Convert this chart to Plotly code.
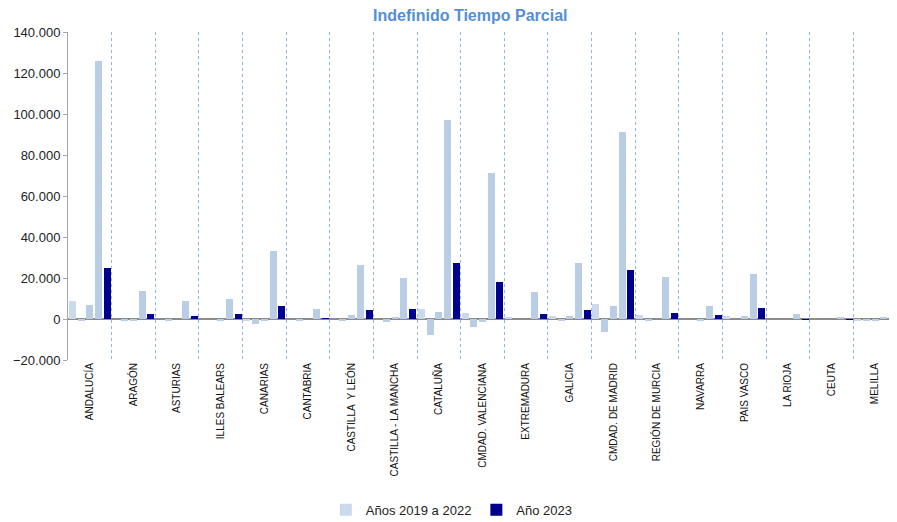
import plotly.graph_objects as go

# Comunidades autónomas (eje X)
regiones = [
    "ANDALUCÍA", "ARAGÓN", "ASTURIAS", "ILLES BALEARS", "CANARIAS",
    "CANTABRIA", "CASTILLA  Y LEÓN", "CASTILLA - LA MANCHA", "CATALUÑA",
    "CMDAD. VALENCIANA", "EXTREMADURA", "GALICIA", "CMDAD. DE MADRID",
    "REGIÓN DE MURCIA", "NAVARRA", "PAIS VASCO", "LA RIOJA", "CEUTA", "MELILLA",
]

# Valores (contratos indefinidos a tiempo parcial)
val_2019 = [9000, 0, 0, 0, -700, 0, 0, 0, 4900, 2900, 500, 1700, 7300, 1800, 0, 1700, 0, 0, -500]
val_2020 = [-800, -800, -700, 0, -2600, -700, -700, -1400, -7600, -3900, 0, -600, -6500, -600, 0, 0, 0, 0, -500]
val_2021 = [6800, -800, 0, -800, -800, 0, 1800, 1100, 3600, -1400, 0, 1600, 6200, 0, -600, 1700, 0, 0, -500]
val_2022 = [126000, 13500, 9000, 9800, 33000, 4900, 26200, 20000, 97000, 71200, 13000, 27300, 91000, 20600, 6200, 21800, 2300, 600, 700]
val_2023 = [25000, 2200, 1700, 2200, 6200, 300, 4400, 4900, 27300, 18000, 2300, 4200, 23700, 2900, 1800, 5500, -400, -300, 0]

COLOR_CLARO = "#B9CDE5"
COLOR_CLARO_2019 = "#CAD9EC"
COLOR_OSCURO = "#00008E"

# Cada comunidad ocupa 5 huecos: 4 años anteriores + 2023
x_prev, y_prev, c_prev = [], [], []
for i in range(len(regiones)):
    for j, serie in enumerate([val_2019, val_2020, val_2021, val_2022]):
        x_prev.append(5 * i + j)
        y_prev.append(serie[i])
        c_prev.append(COLOR_CLARO_2019 if j == 0 else COLOR_CLARO)
x_2023 = [5 * i + 4 for i in range(len(regiones))]

fig = go.Figure()
fig.add_trace(go.Bar(
    x=x_prev, y=y_prev, name="Años 2019 a 2022",
    marker=dict(color=c_prev, line=dict(width=0)), width=0.8,
))
fig.add_trace(go.Bar(
    x=x_2023, y=val_2023, name="Año 2023",
    marker=dict(color=COLOR_OSCURO, line=dict(width=0)), width=0.8,
))

# la página añade 8 px de margen al cuerpo: figura algo más pequeña
fig.update_layout(
    width=889, height=514,
    margin=dict(l=60, r=0, t=24, b=162, autoexpand=False),
    paper_bgcolor="white", plot_bgcolor="white",
    separators=",.",
    font=dict(family="Liberation Sans", size=12, color="#222"),
    title=dict(
        text="<b>Indefinido Tiempo Parcial</b>",
        x=0.52, xanchor="center", y=0.997, yanchor="top",
        font=dict(size=16, color="#558ED5"),
    ),
    bargap=0, barmode="overlay",
    showlegend=True,
    legend=dict(
        orientation="h", x=0.463, xanchor="center", y=-0.457, yanchor="middle",
        font=dict(size=13, color="#222"), itemwidth=30,
    ),
    xaxis=dict(
        range=[-0.5, 94.5],
        automargin=False,
        tickmode="array",
        tickvals=[5 * i + 2 for i in range(len(regiones))],
        ticktext=regiones,
        tickangle=-90,
        tickfont=dict(size=10, color="#111"),
        ticks="", showgrid=False, zeroline=False, showline=False,
        minor=dict(
            tickmode="array",
            tickvals=[5 * i + 4.5 for i in range(len(regiones) - 1)],
            showgrid=True, gridcolor="#95B3D7", griddash="dot", gridwidth=1,
        ),
    ),
    yaxis=dict(
        range=[-20000, 140000],
        automargin=False,
        tickvals=list(range(-20000, 140001, 20000)),
        tickformat=",d",
        tickfont=dict(size=13, color="#222"),
        showgrid=False,
        zeroline=True, zerolinecolor="#8C8C8C", zerolinewidth=2,
        showline=True, linecolor="#A6A6A6", linewidth=1,
        ticks="outside", ticklen=4, tickcolor="#A6A6A6",
    ),
)

fig.write_html("out.html")
